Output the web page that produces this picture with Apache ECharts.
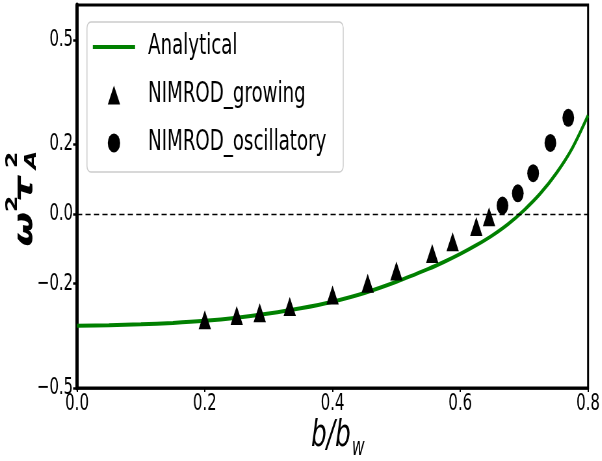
<!DOCTYPE html>
<html>
<head>
<meta charset="utf-8">
<script src="https://cdn.jsdelivr.net/npm/echarts@6/dist/echarts.min.js"></script>
<style>
html, body { margin: 0; padding: 0; background: #fff; overflow: hidden; }
/* 原图整体被横向压缩过，这里照样压一下 */
#chart { width: 926px; height: 461px; transform: scaleX(0.65); transform-origin: 0 0; }
</style>
</head>
<body>
<div id="chart"></div>
<script>
// 解析解曲线（从图上读的点）
const curveX = [0, 0.05, 0.1, 0.15, 0.2, 0.25, 0.3, 0.35, 0.4, 0.45, 0.5, 0.55, 0.575, 0.6, 0.625, 0.65, 0.675, 0.7, 0.725, 0.75, 0.775, 0.8];
const curveY = [-0.321, -0.320, -0.317, -0.313, -0.307, -0.298, -0.286, -0.271, -0.252, -0.227, -0.195, -0.158, -0.1375, -0.115, -0.090, -0.062, -0.029, 0.011, 0.058, 0.116, 0.188, 0.283];
// NIMROD 增长模
const growX = [0.2, 0.25, 0.286, 0.333, 0.4, 0.455, 0.5, 0.556, 0.588, 0.625, 0.645];
const growY = [-0.304, -0.292, -0.284, -0.266, -0.233, -0.199, -0.164, -0.114, -0.080, -0.036, -0.008];
// NIMROD 振荡模
const oscX = [0.666, 0.690, 0.714, 0.741, 0.769];
const oscY = [0.024, 0.059, 0.117, 0.204, 0.276];
// 刻度
const xTicks = [0, 0.2, 0.4, 0.6, 0.8];
const yTicks = [-0.5, -0.2, 0.0, 0.2, 0.5];

const FONT = "DejaVu Sans";
const zip = (xs, ys) => xs.map((x, i) => [x, ys[i]]);
const fmt = v => (v < 0 ? "\u2212" : "") + Math.abs(v).toFixed(1);

let myChart = echarts.init(document.getElementById("chart"), null, { renderer: "canvas" });
let option = {
    animation: false,
    grid: {
        left: 118.5, right: 18.3, top: 5, bottom: 73,
        show: true, borderColor: "#000", borderWidth: 3
    },
    legend: {
        orient: "vertical",
        left: 133.8,
        top: 22,
        padding: [11, 26, 15, 9],
        itemWidth: 65,
        itemHeight: 19,
        itemGap: 20,
        symbolKeepAspect: true,
        backgroundColor: "rgba(255,255,255,0.8)",
        borderColor: "#cccccc",
        borderWidth: 1.5,
        borderRadius: 6,
        textStyle: { fontFamily: FONT, fontSize: 28, lineHeight: 28, color: "#000", padding: [0, 0, 0, 15] },
        data: [
            { name: "Analytical", icon: "path://M0,0H65V3.8H0Z" },
            { name: "NIMROD_growing", icon: "path://M0,-1L1,1L-1,1Z" },
            { name: "NIMROD_oscillatory", icon: "circle" }
        ]
    },
    xAxis: {
        type: "value",
        min: 0, max: 0.8, interval: 0.2,
        splitLine: { show: false },
        axisLine: { onZero: false, lineStyle: { color: "#000", width: 2.7 } },
        axisTick: { length: 4, lineStyle: { color: "#000", width: 2 } },
        axisLabel: { margin: 5, fontFamily: FONT, fontSize: 23, color: "#000", formatter: fmt }
    },
    yAxis: {
        type: "value",
        min: -0.5, max: 0.6,
        splitLine: { show: false },
        axisLine: { onZero: false, lineStyle: { color: "#000", width: 5 } },
        axisTick: { length: 6, customValues: yTicks, lineStyle: { color: "#000", width: 2.5 } },
        axisLabel: { margin: 6, fontFamily: FONT, fontSize: 23, color: "#000", customValues: yTicks, formatter: fmt }
    },
    series: [
        {
            name: "Analytical",
            type: "line",
            data: zip(curveX, curveY),
            symbol: "none",
            smooth: 0.3,
            lineStyle: { color: "#008000", width: 4 },
            itemStyle: { color: "#008000" },
            markLine: {
                silent: true,
                symbol: "none",
                label: { show: false },
                lineStyle: { color: "#000", type: [8, 5], width: 1.3 },
                data: [{ yAxis: 0 }]
            },
            z: 2
        },
        {
            name: "NIMROD_growing",
            type: "scatter",
            data: zip(growX, growY),
            symbol: "triangle",
            symbolSize: [19, 19],
            itemStyle: { color: "#000", opacity: 1 },
            z: 3
        },
        {
            name: "NIMROD_oscillatory",
            type: "scatter",
            data: zip(oscX, oscY),
            symbol: "circle",
            symbolSize: 18,
            itemStyle: { color: "#000", opacity: 1 },
            z: 3
        }
    ],
    graphic: [
        {
            // 纵轴标题 ω²τ_A²
            type: "group", x: 50.8, y: 245, rotation: Math.PI / 2,
            children: [
                { type: "text", x: 16, y: -12, style: { text: "\u03c9", fontFamily: FONT, fontSize: 40, fontWeight: "bold", fontStyle: "italic", fill: "#000", align: "center", verticalAlign: "middle" } },
                { type: "text", x: 41, y: -31, style: { text: "2", fontFamily: FONT, fontSize: 24, fontWeight: "bold", fill: "#000", align: "center", verticalAlign: "middle" } },
                { type: "text", x: 56, y: -12, style: { text: "\u03c4", fontFamily: FONT, fontSize: 40, fontWeight: "bold", fontStyle: "italic", fill: "#000", align: "center", verticalAlign: "middle" } },
                { type: "text", x: 85, y: -31, style: { text: "2", fontFamily: FONT, fontSize: 24, fontWeight: "bold", fill: "#000", align: "center", verticalAlign: "middle" } },
                { type: "text", x: 85, y: -2, style: { text: "A", fontFamily: FONT, fontSize: 24, fontWeight: "bold", fontStyle: "italic", fill: "#000", align: "center", verticalAlign: "middle" } }
            ]
        },
        // 横轴标题 b/b_w
        { type: "text", x: 509, y: 436, style: { text: "b/b", fontFamily: FONT, fontSize: 38, fontStyle: "italic", fill: "#000", align: "center", verticalAlign: "middle" } },
        { type: "text", x: 551, y: 449, style: { text: "w", fontFamily: FONT, fontSize: 24, fontStyle: "italic", fill: "#000", align: "center", verticalAlign: "middle" } }
    ]
};
myChart.setOption(option);
window.addEventListener("resize", function () {
    myChart.resize();
});
</script>
</body>
</html>
